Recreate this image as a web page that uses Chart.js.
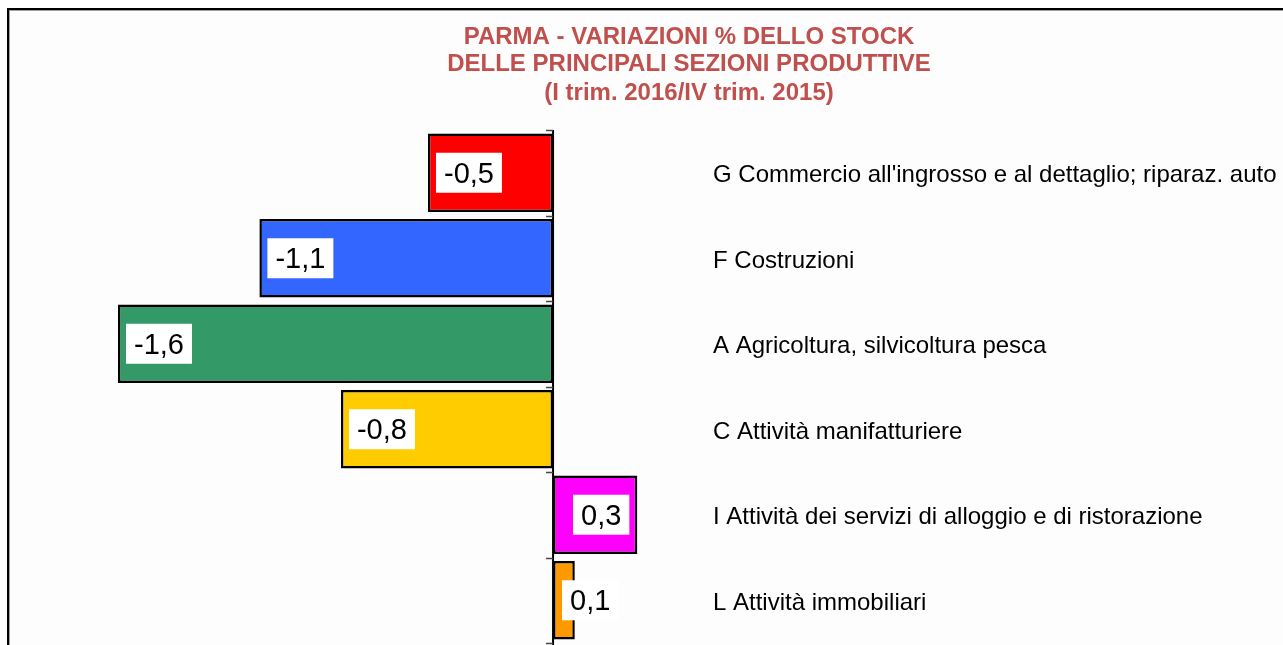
<!DOCTYPE html>
<html><head><meta charset="utf-8">
<script src="https://cdn.jsdelivr.net/npm/chart.js@4.4.1/dist/chart.umd.min.js"></script>
<style>
html,body{margin:0;padding:0;background:#fff;overflow:hidden;width:1283px;height:645px}
#frame{position:absolute;left:7px;top:8px;width:1300px;height:700px;border-left:2px solid #000;border-top:2px solid #000;background:#fdfdfd;box-shadow:inset 1px 1px 0 #a0a0a0}
#wrap{position:absolute;left:0;top:0;width:1283px;height:645px}
</style></head><body>
<div id="frame"></div>
<div id="wrap"><canvas id="c" width="1283" height="645"></canvas></div>
<script>
const titleLines = ["PARMA - VARIAZIONI % DELLO STOCK", "DELLE PRINCIPALI SEZIONI PRODUTTIVE", "(I trim. 2016/IV trim. 2015)"];
const categories = [
  "G Commercio all'ingrosso e al dettaglio; riparaz. auto",
  "F Costruzioni",
  "A Agricoltura, silvicoltura pesca",
  "C Attività manifatturiere",
  "I Attività dei servizi di alloggio e di ristorazione",
  "L Attività immobiliari"
];
const values = [-0.46, -1.08, -1.60, -0.78, 0.31, 0.08];
const barColors = ["#FF0000", "#3366FF", "#339966", "#FFCC00", "#FF00FF", "#FF9900"];

const FONT = "'Liberation Sans', Arial, sans-serif";

const overlay = {
  id: 'overlay',
  afterDatasetsDraw(chart) {
    const ctx = chart.ctx;
    const xs = chart.scales.x, ys = chart.scales.y;
    const ca = chart.chartArea;
    const x0 = xs.getPixelForValue(0);
    ctx.save();
    // zero axis
    ctx.strokeStyle = '#000';
    ctx.lineWidth = 2;
    ctx.beginPath();
    ctx.moveTo(x0, ca.top);
    ctx.lineTo(x0, ca.bottom + 2);
    ctx.stroke();
    // category tick marks
    const n = categories.length;
    const band = (ys.getPixelForValue(n - 1) - ys.getPixelForValue(0)) / (n - 1);
    ctx.strokeStyle = '#444';
    ctx.lineWidth = 1.5;
    for (let i = 0; i <= n; i++) {
      const y = Math.round(ys.getPixelForValue(0) - band / 2 + i * band) + 0.5;
      ctx.beginPath();
      ctx.moveTo(x0 - 7, y);
      ctx.lineTo(x0, y);
      ctx.stroke();
    }
    // value labels
    const meta = chart.getDatasetMeta(0);
    ctx.font = '29px ' + FONT;
    ctx.textAlign = 'center';
    ctx.textBaseline = 'middle';
    meta.data.forEach((el, i) => {
      const v = values[i];
      const txt = v.toFixed(1).replace('.', ',');
      const tw = ctx.measureText(txt).width;
      const bw = tw + 16, bh = 40;
      let left;
      if (v < 0) {
        left = el.x + 8;
        if (left + bw > el.base - 8) left = el.base - 9 - bw;
      } else {
        left = el.x - 8 - bw;
        if (left < el.base + 8) left = el.base + 9;
      }
      const top = el.y - bh / 2;
      ctx.fillStyle = '#fff';
      ctx.fillRect(left, top, bw, bh);
      ctx.fillStyle = '#000';
      ctx.fillText(txt, left + bw / 2, el.y + 2);
    });
    // title
    ctx.fillStyle = '#C0504D';
    ctx.font = 'bold 24px ' + FONT;
    const ty = [37, 64, 93];
    titleLines.forEach((t, i) => ctx.fillText(t, 689, ty[i]));
    ctx.restore();
  }
};

new Chart(document.getElementById('c'), {
  type: 'bar',
  data: {
    labels: categories,
    datasets: [{
      data: values,
      backgroundColor: barColors,
      borderColor: '#000',
      borderWidth: 2.5,
      borderSkipped: false,
      barPercentage: 0.92,
      categoryPercentage: 1
    }]
  },
  options: {
    indexAxis: 'y',
    responsive: false,
    animation: false,
    layout: { padding: { top: 130, bottom: 2, left: 118, right: 0 } },
    plugins: { legend: { display: false }, tooltip: { enabled: false }, title: { display: false } },
    scales: {
      x: { type: 'linear', min: -1.6, max: 0.5, display: false },
      y: {
        position: 'right',
        grid: { display: false, drawTicks: false },
        border: { display: false },
        ticks: { padding: 24, labelOffset: 3, color: '#000', font: { family: FONT, size: 24 } },
        afterFit(a) { a.width = 594; a.paddingTop = 0; a.paddingBottom = 0; }
      }
    }
  },
  plugins: [overlay]
});
</script>
</body></html>
